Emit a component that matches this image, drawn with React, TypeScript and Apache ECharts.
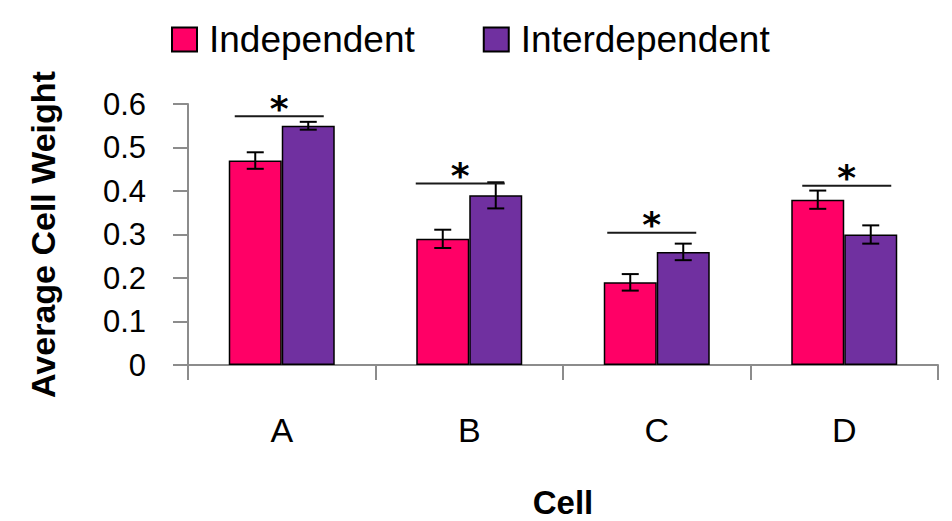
import React, { useEffect, useRef } from "react";
import * as echarts from "echarts";

const categories = ["A", "B", "C", "D"];
const independent = [0.47, 0.29, 0.19, 0.38];
const interdependent = [0.55, 0.39, 0.26, 0.3];
const independentErr = [0.019, 0.021, 0.019, 0.021];
const interdependentErr = [0.009, 0.03, 0.019, 0.021];
const sigLevels = [0.572, 0.417, 0.304, 0.412];
const sigMarks = ["*", "*", "*", "*"];

// layout constants (pixels)
const BAR_W = 53;
const CAP_HALF = 8.5;
const SIG_HALF = 44.5;
const sigOffsets = [-2.5, -9, -5, 2.5];

const FONT = "Liberation Sans";

function errorSeries(name: string, values: number[], errs: number[], offset: number) {
  return {
    type: "custom",
    name: name + " err",
    z: 5,
    silent: true,
    data: values.map((v, i) => [i, v, errs[i]]),
    renderItem: (_params: any, api: any) => {
      const i = api.value(0);
      const v = api.value(1);
      const e = api.value(2);
      const hi = api.coord([i, v + e]);
      const lo = api.coord([i, v - e]);
      const x = hi[0] + offset;
      const st = { stroke: "#000", lineWidth: 2 };
      return {
        type: "group",
        children: [
          { type: "line", shape: { x1: x, y1: hi[1], x2: x, y2: lo[1] }, style: st },
          { type: "line", shape: { x1: x - CAP_HALF, y1: hi[1], x2: x + CAP_HALF, y2: hi[1] }, style: st },
          { type: "line", shape: { x1: x - CAP_HALF, y1: lo[1], x2: x + CAP_HALF, y2: lo[1] }, style: st },
        ],
      };
    },
  };
}

export default function App() {
  const ref = useRef<HTMLDivElement>(null);
  useEffect(() => {
    if (!ref.current) return;
    const chart = echarts.init(ref.current, null, { renderer: "svg" });
    chart.setOption({
      animation: false,
      textStyle: { fontFamily: FONT, color: "#000" },
      legend: {
        data: ["Independent", "Interdependent"],
        left: 166,
        top: 16,
        itemWidth: 25,
        itemHeight: 24,
        itemGap: 68,
        icon: "rect",
        textStyle: { fontFamily: FONT, fontSize: 37, color: "#000", padding: [0, 0, 0, 7] },
      },
      grid: { left: 188, right: 14, top: 104, bottom: 156, outerBoundsMode: "none", containLabel: false },
      xAxis: {
        type: "category",
        data: categories,
        name: "Cell",
        nameLocation: "middle",
        nameGap: 121,
        nameTextStyle: { fontFamily: FONT, fontSize: 33, fontWeight: "bold", color: "#000" },
        axisLine: { lineStyle: { color: "#8c8c8c", width: 2 } },
        axisTick: { show: true, length: 15, lineStyle: { color: "#8c8c8c", width: 2 } },
        axisLabel: { fontFamily: FONT, fontSize: 34, color: "#000", margin: 48 },
      },
      yAxis: {
        type: "value",
        min: 0,
        max: 0.6,
        interval: 0.1,
        name: "Average Cell Weight",
        nameLocation: "middle",
        nameRotate: 90,
        nameGap: 128,
        nameTextStyle: { fontFamily: FONT, fontSize: 34, fontWeight: "bold", color: "#000" },
        axisLine: { show: true, lineStyle: { color: "#8c8c8c", width: 2 } },
        axisTick: { show: true, length: 15, lineStyle: { color: "#8c8c8c", width: 2 } },
        axisLabel: { fontFamily: FONT, fontSize: 31, color: "#000", margin: 42 },
        splitLine: { show: false },
      },
      series: [
        {
          type: "bar",
          name: "Independent",
          data: independent,
          barWidth: BAR_W,
          barGap: "0%",
          itemStyle: { color: "#FF0066", borderColor: "#000", borderWidth: 1.5 },
        },
        {
          type: "bar",
          name: "Interdependent",
          data: interdependent,
          barWidth: BAR_W,
          barGap: "0%",
          itemStyle: { color: "#7030A0", borderColor: "#000", borderWidth: 1.5 },
        },
        errorSeries("Independent", independent, independentErr, -BAR_W / 2),
        errorSeries("Interdependent", interdependent, interdependentErr, BAR_W / 2),
        {
          type: "custom",
          name: "significance",
          z: 5,
          silent: true,
          data: sigLevels.map((v, i) => [i, v]),
          renderItem: (params: any, api: any) => {
            const i = api.value(0);
            const p = api.coord([i, api.value(1)]);
            const cx = p[0] + sigOffsets[params.dataIndex];
            return {
              type: "group",
              children: [
                {
                  type: "line",
                  shape: { x1: cx - SIG_HALF, y1: p[1], x2: cx + SIG_HALF, y2: p[1] },
                  style: { stroke: "#1a1a1a", lineWidth: 2 },
                },
                {
                  type: "text",
                  x: cx,
                  y: p[1] - 8,
                  style: {
                    text: sigMarks[params.dataIndex],
                    font: "bold 36px 'DejaVu Sans'",
                    fill: "#000",
                    align: "center",
                    verticalAlign: "middle",
                  },
                },
              ],
            };
          },
        },
      ],
    });
    return () => chart.dispose();
  }, []);
  return (
    <div
      ref={ref}
      style={{ position: "fixed", left: 0, top: 0, width: 952, height: 521, background: "#fff" }}
    />
  );
}
